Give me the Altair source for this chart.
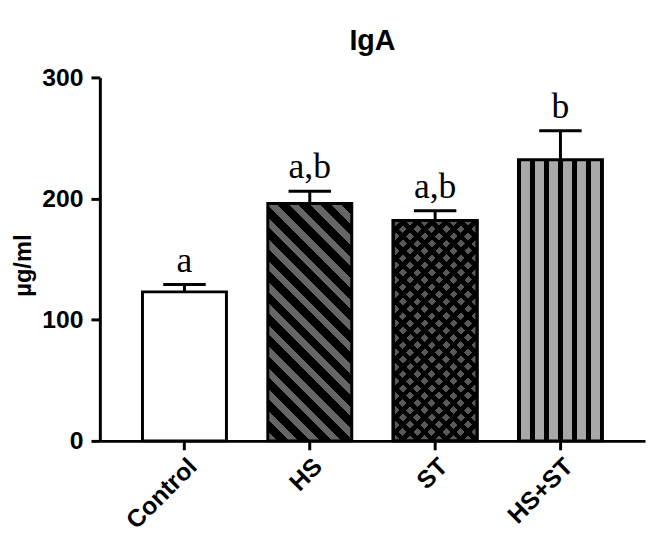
import altair as alt
import pandas as pd

groups = ["Control", "HS", "ST", "HS+ST"]
means = [123, 196, 182, 232]
errs = [6, 10, 8, 24]
letters = ["a", "a,b", "a,b", "b"]

df = pd.DataFrame({
    "group": groups,
    "mean": means,
    "upper": [m + e for m, e in zip(means, errs)],
    "letter": letters,
})

W, H = 552, 368
YMAX = 300
P_IN, P_OUT = 0.33, 0.34
step = W / (len(groups) - P_IN + 2 * P_OUT)
bw = step * (1 - P_IN)
px = H / YMAX


def stripes(n, frac, c_on, c_off):
    stops = []
    for i in range(n):
        a = i / n
        b = (i + frac) / n
        c = (i + 1) / n
        stops += [
            alt.GradientStop(offset=a, color=c_on),
            alt.GradientStop(offset=b, color=c_on),
            alt.GradientStop(offset=b, color=c_off),
            alt.GradientStop(offset=c, color=c_off),
        ]
    return stops


def diag_down(w, h, period, frac, c_on, c_off):
    k = (w + h) / (w * w + h * h)
    n = max(1, round((w + h) / period))
    return alt.LinearGradient(gradient="linear", stops=stripes(n, frac, c_on, c_off),
                              x1=0, y1=1, x2=k * w, y2=1 - k * h)


def diag_up(w, h, period, frac, c_on, c_off):
    k = (w + h) / (w * w + h * h)
    n = max(1, round((w + h) / period))
    return alt.LinearGradient(gradient="linear", stops=stripes(n, frac, c_on, c_off),
                              x1=0, y1=0, x2=k * w, y2=k * h)


def vert(n, frac, c_on, c_off):
    stops = []
    for i in range(n):
        a = i / n
        stops += [
            alt.GradientStop(offset=a, color=c_off),
            alt.GradientStop(offset=a + 0.2 / n, color=c_off),
            alt.GradientStop(offset=a + 0.2 / n, color=c_on),
            alt.GradientStop(offset=a + (0.2 + frac) / n, color=c_on),
            alt.GradientStop(offset=a + (0.2 + frac) / n, color=c_off),
            alt.GradientStop(offset=(i + 1) / n, color=c_off),
        ]
    return alt.LinearGradient(gradient="linear", stops=stops, x1=0, y1=0, x2=1, y2=0)


h_hs = means[1] * px
h_st = means[2] * px

fill_hs = diag_down(bw, h_hs, 22, 0.45, "#666666", "#000000")
fill_st_a = diag_down(bw, h_st, 15, 0.55, "#595959", "#000000")
fill_st_b = diag_up(bw, h_st, 15, 0.55, "rgba(0,0,0,0)", "#000000")
fill_hsst = vert(6, 0.6, "#a8a8a8", "#000000")

xenc = alt.X("group:N", sort=groups,
             scale=alt.Scale(domain=groups, paddingInner=P_IN, paddingOuter=P_OUT),
             axis=alt.Axis(title=None, labelAngle=-45, labelFont="Liberation Sans",
                           labelFontSize=25, labelFontWeight="bold", labelColor="black",
                           tickSize=9, tickWidth=3, tickColor="black",
                           domainWidth=3, domainColor="black", labelPadding=4))
yenc = alt.Y("mean:Q", scale=alt.Scale(domain=[0, YMAX], nice=False),
             axis=alt.Axis(title="µg/ml", values=[0, 100, 200, 300], grid=False,
                           labelFont="Liberation Sans", labelFontSize=25,
                           labelFontWeight="bold", labelColor="black",
                           titleFont="Liberation Sans", titleFontSize=24,
                           titleFontWeight="bold", titleColor="black",
                           titleX=-70, titleY=190, titleBaseline="alphabetic",
                           tickSize=9, tickWidth=3, tickColor="black",
                           domainWidth=3, domainColor="black", labelPadding=8))

base = alt.Chart(df)


def bar_layer(name, fill):
    return base.transform_filter(alt.datum.group == name).mark_bar(
        fill=fill, stroke="black", strokeWidth=3
    ).encode(x=xenc, y=yenc)


layers = [
    bar_layer("Control", "white"),
    bar_layer("HS", fill_hs),
    bar_layer("ST", fill_st_a),
    bar_layer("ST", fill_st_b),
    bar_layer("HS+ST", fill_hsst),
]

err = base.mark_rule(color="black", strokeWidth=3).encode(
    x=alt.X("group:N", sort=groups), y="mean:Q", y2="upper:Q")
cap = base.mark_tick(color="black", size=43, thickness=3, opacity=1).encode(
    x=alt.X("group:N", sort=groups), y="upper:Q")
txt = base.mark_text(font="Liberation Serif", fontSize=36, color="black",
                     baseline="alphabetic", dy=-13).encode(
    x=alt.X("group:N", sort=groups), y="upper:Q", text="letter:N")

chart = alt.layer(*layers, err, cap, txt).properties(
    width=W, height=H,
    title=alt.TitleParams("IgA", font="Liberation Sans", fontSize=29,
                          fontWeight="bold", anchor="middle", frame="group",
                          offset=10, color="black"),
    autosize="none",
    padding={"left": 93, "top": 67, "right": 4, "bottom": 92},
).configure_view(stroke=None)

chart.save("out.html", embed_options={"renderer": "svg", "actions": False})
